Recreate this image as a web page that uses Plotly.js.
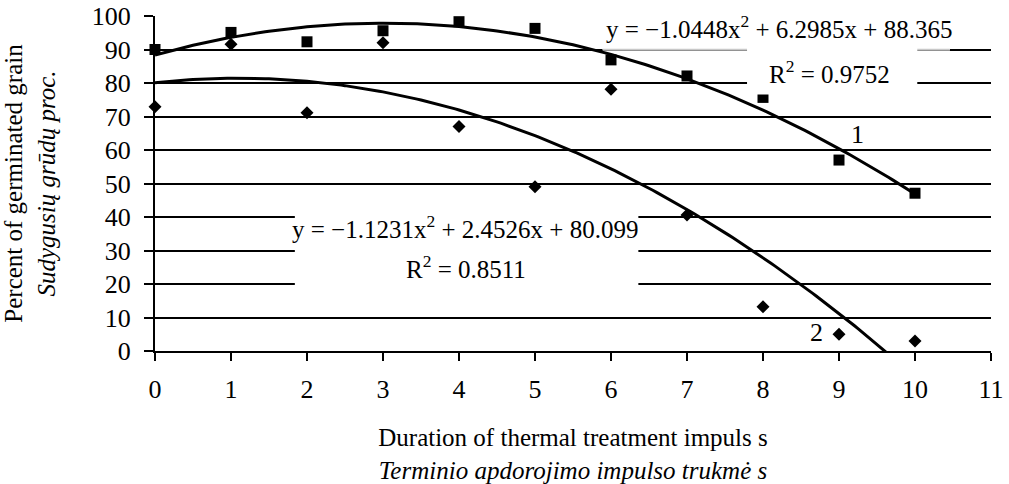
<!DOCTYPE html>
<html>
<head>
<meta charset="utf-8">
<script src="https://cdn.plot.ly/plotly-3.0.1.min.js"></script>
<style>
  html, body { margin: 0; padding: 0; background: #ffffff; }
  #chart { width: 1009px; height: 484px; }
</style>
</head>
<body>
<div id="chart"></div>
<script>
// ---- data ----
const durations = [0, 1, 2, 3, 4, 5, 6, 7, 8, 9, 10];
const series1 = [90, 95.1, 92.3, 95.6, 98.3, 96.3, 86.9, 82.1, 75.7, 57, 47.1];   // squares (curve 1)
const series2 = [72.9, 91.6, 71.1, 92, 67, 49, 78.1, 40.6, 13.2, 5, 3];           // diamonds (curve 2)
const trend1Coef = [-1.0448, 6.2985, 88.365];   // y = a x^2 + b x + c (as printed)
const trend2Coef = [-1.1231, 2.4526, 80.099];
const trend1R2 = "0.9752";
const trend2R2 = "0.8511";
const xTickVals = [0, 1, 2, 3, 4, 5, 6, 7, 8, 9, 10, 11];
const yTickVals = [0, 10, 20, 30, 40, 50, 60, 70, 80, 90, 100];

// ---- build the printed trend curves from their coefficients ----
function trendCurve(coef) {
  const xs = [], ys = [];
  for (let i = 0; i <= 200; i++) {
    const x = durations[0] + (durations[durations.length - 1] - durations[0]) * i / 200;
    xs.push(x);
    ys.push(coef[0] * x * x + coef[1] * x + coef[2]);
  }
  return {xs, ys};
}
function eqText(coef) {
  const sgn = v => (v < 0 ? "\u2212" : "");
  return "y = " + sgn(coef[0]) + Math.abs(coef[0]).toFixed(4) + "x<sup>2</sup> + " +
         coef[1].toFixed(4) + "x + " + coef[2].toFixed(3);
}
const t1 = trendCurve(trend1Coef);
const t2 = trendCurve(trend2Coef);

const FONT = "'Liberation Serif', 'Times New Roman', Times, serif";

const traces = [
  {x: t1.xs, y: t1.ys, mode: "lines", line: {color: "#000", width: 3}, hoverinfo: "skip", showlegend: false},
  {x: t2.xs, y: t2.ys, mode: "lines", line: {color: "#000", width: 3}, hoverinfo: "skip", showlegend: false},
  {x: durations, y: series1, mode: "markers", cliponaxis: false,
   marker: {symbol: "square", size: 11, color: "#000"}, showlegend: false},
  {x: durations, y: series2, mode: "markers", cliponaxis: false,
   marker: {symbol: "diamond", size: 10, color: "#000"}, showlegend: false}
];

const layout = {
  width: 1009, height: 484,
  margin: {l: 155, r: 18, t: 16, b: 133},
  paper_bgcolor: "#fff", plot_bgcolor: "#fff",
  font: {family: FONT, size: 26, color: "#000"},
  showlegend: false,
  xaxis: {
    range: [0, 11], tickvals: xTickVals, ticktext: xTickVals.map(String),
    showgrid: false, zeroline: false,
    showline: true, linecolor: "#000", linewidth: 2,
    ticks: "outside", ticklen: 8, tickwidth: 2, tickcolor: "#000",
    ticklabelstandoff: 6,
    tickfont: {family: FONT, size: 26},
    title: {text: "Duration of thermal treatment impuls s<br><i>Terminio apdorojimo impulso trukmė s</i>",
            font: {family: FONT, size: 25}, standoff: 26}
  },
  yaxis: {
    range: [0, 100], tickvals: yTickVals, ticktext: yTickVals.map(String),
    showgrid: true, gridcolor: "#000", gridwidth: 2,
    zeroline: false,
    showline: true, linecolor: "#000", linewidth: 2,
    ticks: "outside", ticklen: 9, tickwidth: 2, tickcolor: "#000",
    ticklabelstandoff: 8,
    tickfont: {family: FONT, size: 26},
    title: {text: "Percent of germinated grain<br><i>Sudygusių grūdų proc.</i>",
            font: {family: FONT, size: 25}, standoff: 30}
  },
  shapes: [
    {type: "rect", xref: "x", yref: "y", x0: 5.89, x1: 10.46, y0: 89.7, y1: 104,
     fillcolor: "#fff", line: {width: 0}, layer: "between"},
    {type: "line", xref: "x", yref: "y", x0: 5.89, x1: 10.46, y0: 90, y1: 90,
     line: {color: "#c8c8c8", width: 1.5}, layer: "between"},
    {type: "rect", xref: "x", yref: "y", x0: 7.79, x1: 10.03, y0: 76.6, y1: 91.5,
     fillcolor: "#fff", line: {width: 0}, layer: "above"},
    {type: "rect", xref: "x", yref: "y", x0: 1.84, x1: 6.36, y0: 14.5, y1: 46,
     fillcolor: "#fff", line: {width: 0}, layer: "between"}
  ],
  annotations: [
    {x: 8.21, y: 96.7, xref: "x", yref: "y", text: eqText(trend1Coef), showarrow: false,
     font: {family: FONT, size: 25}},
    {x: 8.88, y: 83.3, xref: "x", yref: "y", text: "R<sup>2</sup> = " + trend1R2, showarrow: false,
     font: {family: FONT, size: 25}},
    {x: 4.08, y: 37.0, xref: "x", yref: "y", text: eqText(trend2Coef), showarrow: false,
     font: {family: FONT, size: 25}},
    {x: 4.09, y: 25.1, xref: "x", yref: "y", text: "R<sup>2</sup> = " + trend2R2, showarrow: false,
     font: {family: FONT, size: 25}},
    {x: 9.24, y: 64.5, xref: "x", yref: "y", text: "1", showarrow: false,
     font: {family: FONT, size: 26}},
    {x: 8.71, y: 5.4, xref: "x", yref: "y", text: "2", showarrow: false,
     font: {family: FONT, size: 26}}
  ]
};

Plotly.newPlot("chart", traces, layout, {displayModeBar: false, staticPlot: true});
</script>
</body>
</html>
